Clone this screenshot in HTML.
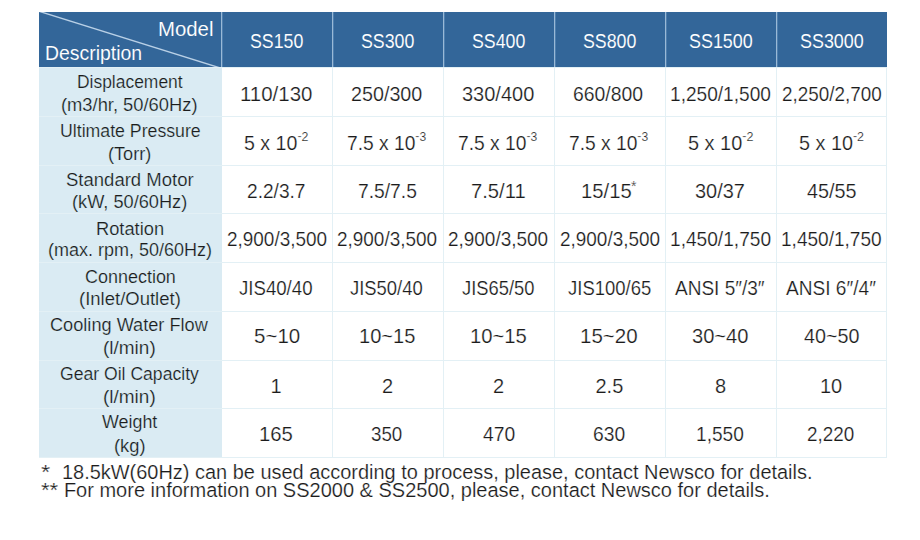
<!DOCTYPE html>
<html><head><meta charset="utf-8"><style>
html,body{margin:0;padding:0;background:#fff;width:920px;height:540px;overflow:hidden;position:relative}
body{font-family:"Liberation Sans",sans-serif;color:#1c1c1c}
.a{position:absolute}
.t{position:absolute;white-space:nowrap;line-height:1;transform-origin:0 0}
</style></head><body>

<div class="a" style="left:39px;top:12px;width:848px;height:55px;background:#336699"></div>
<div class="a" style="left:39px;top:67px;width:183px;height:390px;background:#daebf3"></div>
<div class="a" style="left:221px;top:12px;width:1px;height:55px;background:#9ab9d6"></div>
<div class="a" style="left:222px;top:12px;width:1px;height:55px;background:#4f7fae"></div>
<div class="a" style="left:332px;top:12px;width:1px;height:55px;background:#9ab9d6"></div>
<div class="a" style="left:333px;top:12px;width:1px;height:55px;background:#4f7fae"></div>
<div class="a" style="left:443px;top:12px;width:1px;height:55px;background:#9ab9d6"></div>
<div class="a" style="left:444px;top:12px;width:1px;height:55px;background:#4f7fae"></div>
<div class="a" style="left:554px;top:12px;width:1px;height:55px;background:#9ab9d6"></div>
<div class="a" style="left:555px;top:12px;width:1px;height:55px;background:#4f7fae"></div>
<div class="a" style="left:665px;top:12px;width:1px;height:55px;background:#9ab9d6"></div>
<div class="a" style="left:666px;top:12px;width:1px;height:55px;background:#4f7fae"></div>
<div class="a" style="left:776px;top:12px;width:1px;height:55px;background:#9ab9d6"></div>
<div class="a" style="left:777px;top:12px;width:1px;height:55px;background:#4f7fae"></div>
<div class="a" style="left:332px;top:67px;width:1px;height:390px;background:#e3f0f5"></div>
<div class="a" style="left:443px;top:67px;width:1px;height:390px;background:#e3f0f5"></div>
<div class="a" style="left:554px;top:67px;width:1px;height:390px;background:#e3f0f5"></div>
<div class="a" style="left:665px;top:67px;width:1px;height:390px;background:#e3f0f5"></div>
<div class="a" style="left:776px;top:67px;width:1px;height:390px;background:#e3f0f5"></div>
<div class="a" style="left:886px;top:67px;width:1px;height:391px;background:#e3f0f5"></div>
<div class="a" style="left:39px;top:67px;width:848px;height:1px;background:#e3f0f5"></div>
<div class="a" style="left:39px;top:116px;width:848px;height:1px;background:#e3f0f5"></div>
<div class="a" style="left:39px;top:165px;width:848px;height:1px;background:#e3f0f5"></div>
<div class="a" style="left:39px;top:213px;width:848px;height:1px;background:#e3f0f5"></div>
<div class="a" style="left:39px;top:262px;width:848px;height:1px;background:#e3f0f5"></div>
<div class="a" style="left:39px;top:311px;width:848px;height:1px;background:#e3f0f5"></div>
<div class="a" style="left:39px;top:360px;width:848px;height:1px;background:#e3f0f5"></div>
<div class="a" style="left:39px;top:408px;width:848px;height:1px;background:#e3f0f5"></div>
<div class="a" style="left:39px;top:457px;width:848px;height:1px;background:#e3f0f5"></div>
<svg class="a" style="left:39px;top:12px;overflow:hidden" width="182" height="55"><line x1="0" y1="-0.7" x2="182" y2="56.2" stroke="#b9d0e6" stroke-width="1.4"/></svg>
<div class="t" style="left:157.86px;top:19.00px;font-size:20px;color:#fff;-webkit-text-stroke:0.1px #336699;transform:scaleX(1.0176);">Model</div>
<div class="t" style="left:44.96px;top:43.00px;font-size:20px;color:#fff;-webkit-text-stroke:0.1px #336699;transform:scaleX(0.9711);">Description</div>
<div class="t" style="left:249.86px;top:31.00px;font-size:20px;color:#fff;-webkit-text-stroke:0.1px #336699;transform:scaleX(0.8879);">SS150</div>
<div class="t" style="left:360.86px;top:31.00px;font-size:20px;color:#fff;-webkit-text-stroke:0.1px #336699;transform:scaleX(0.8879);">SS300</div>
<div class="t" style="left:471.86px;top:31.00px;font-size:20px;color:#fff;-webkit-text-stroke:0.1px #336699;transform:scaleX(0.8879);">SS400</div>
<div class="t" style="left:582.86px;top:31.00px;font-size:20px;color:#fff;-webkit-text-stroke:0.1px #336699;transform:scaleX(0.8879);">SS800</div>
<div class="t" style="left:688.70px;top:31.00px;font-size:20px;color:#fff;-webkit-text-stroke:0.1px #336699;transform:scaleX(0.8957);">SS1500</div>
<div class="t" style="left:799.70px;top:31.00px;font-size:20px;color:#fff;-webkit-text-stroke:0.1px #336699;transform:scaleX(0.8957);">SS3000</div>
<div class="t" style="left:76.93px;top:73.00px;font-size:18px;-webkit-text-stroke:0.2px #daebf3;transform:scaleX(0.9685);">Displacement</div>
<div class="t" style="left:61.28px;top:96.00px;font-size:18px;-webkit-text-stroke:0.2px #daebf3;transform:scaleX(1.0182);">(m3/hr, 50/60Hz)</div>
<div class="t" style="left:59.72px;top:122.00px;font-size:18px;-webkit-text-stroke:0.2px #daebf3;transform:scaleX(0.9837);">Ultimate Pressure</div>
<div class="t" style="left:108.19px;top:145.00px;font-size:18px;-webkit-text-stroke:0.2px #daebf3;transform:scaleX(1.0073);">(Torr)</div>
<div class="t" style="left:65.57px;top:171.00px;font-size:18px;-webkit-text-stroke:0.2px #daebf3;transform:scaleX(1.0285);">Standard Motor</div>
<div class="t" style="left:72.39px;top:193.00px;font-size:18px;-webkit-text-stroke:0.2px #daebf3;transform:scaleX(1.0107);">(kW, 50/60Hz)</div>
<div class="t" style="left:95.98px;top:220.00px;font-size:18px;-webkit-text-stroke:0.2px #daebf3;transform:scaleX(1.0154);">Rotation</div>
<div class="t" style="left:47.90px;top:241.00px;font-size:18px;-webkit-text-stroke:0.2px #daebf3;">(max. rpm, 50/60Hz)</div>
<div class="t" style="left:84.60px;top:268.00px;font-size:18px;-webkit-text-stroke:0.2px #daebf3;transform:scaleX(0.9978);">Connection</div>
<div class="t" style="left:79.27px;top:290.00px;font-size:18px;-webkit-text-stroke:0.2px #daebf3;transform:scaleX(1.0278);">(Inlet/Outlet)</div>
<div class="t" style="left:50.39px;top:316.00px;font-size:18px;-webkit-text-stroke:0.2px #daebf3;transform:scaleX(1.0090);">Cooling Water Flow</div>
<div class="t" style="left:102.85px;top:339.00px;font-size:18px;-webkit-text-stroke:0.2px #daebf3;transform:scaleX(1.0542);">(l/min)</div>
<div class="t" style="left:60.22px;top:365.00px;font-size:18px;-webkit-text-stroke:0.2px #daebf3;transform:scaleX(0.9773);">Gear Oil Capacity</div>
<div class="t" style="left:102.85px;top:388.00px;font-size:18px;-webkit-text-stroke:0.2px #daebf3;transform:scaleX(1.0542);">(l/min)</div>
<div class="t" style="left:102.00px;top:413.00px;font-size:18px;-webkit-text-stroke:0.2px #daebf3;transform:scaleX(0.9929);">Weight</div>
<div class="t" style="left:113.78px;top:437.00px;font-size:18px;-webkit-text-stroke:0.2px #daebf3;transform:scaleX(1.0172);">(kg)</div>
<div class="t" style="left:239.76px;top:84.00px;font-size:20px;-webkit-text-stroke:0.2px #ffffff;transform:scaleX(1.0221);">110/130</div>
<div class="t" style="left:351.31px;top:84.00px;font-size:20px;-webkit-text-stroke:0.2px #ffffff;transform:scaleX(0.9859);">250/300</div>
<div class="t" style="left:462.00px;top:84.00px;font-size:20px;-webkit-text-stroke:0.2px #ffffff;">330/400</div>
<div class="t" style="left:572.93px;top:84.00px;font-size:20px;-webkit-text-stroke:0.2px #ffffff;transform:scaleX(0.9690);">660/800</div>
<div class="t" style="left:669.69px;top:84.00px;font-size:20px;-webkit-text-stroke:0.2px #ffffff;transform:scaleX(0.9553);">1,250/1,500</div>
<div class="t" style="left:781.76px;top:84.00px;font-size:20px;-webkit-text-stroke:0.2px #ffffff;transform:scaleX(0.9433);">2,250/2,700</div>
<div class="t" style="left:243.92px;top:133.00px;font-size:20px;-webkit-text-stroke:0.2px #ffffff;transform:scaleX(0.9797);">5 x 10<span style="font-size:0.63em;position:relative;top:-0.71em"><span style="position:relative;top:-0.12em">-</span>2</span></div>
<div class="t" style="left:347.04px;top:133.00px;font-size:20px;-webkit-text-stroke:0.2px #ffffff;transform:scaleX(0.9605);">7.5 x 10<span style="font-size:0.63em;position:relative;top:-0.71em"><span style="position:relative;top:-0.12em">-</span>3</span></div>
<div class="t" style="left:458.04px;top:133.00px;font-size:20px;-webkit-text-stroke:0.2px #ffffff;transform:scaleX(0.9617);">7.5 x 10<span style="font-size:0.63em;position:relative;top:-0.71em"><span style="position:relative;top:-0.12em">-</span>3</span></div>
<div class="t" style="left:569.34px;top:133.00px;font-size:20px;-webkit-text-stroke:0.2px #ffffff;transform:scaleX(0.9605);">7.5 x 10<span style="font-size:0.63em;position:relative;top:-0.71em"><span style="position:relative;top:-0.12em">-</span>3</span></div>
<div class="t" style="left:687.60px;top:133.00px;font-size:20px;-webkit-text-stroke:0.2px #ffffff;transform:scaleX(0.9953);">5 x 10<span style="font-size:0.63em;position:relative;top:-0.71em"><span style="position:relative;top:-0.12em">-</span>2</span></div>
<div class="t" style="left:799.11px;top:133.00px;font-size:20px;-webkit-text-stroke:0.2px #ffffff;transform:scaleX(0.9891);">5 x 10<span style="font-size:0.63em;position:relative;top:-0.71em"><span style="position:relative;top:-0.12em">-</span>2</span></div>
<div class="t" style="left:247.14px;top:181.00px;font-size:20px;-webkit-text-stroke:0.2px #ffffff;transform:scaleX(0.9559);">2.2/3.7</div>
<div class="t" style="left:357.84px;top:181.00px;font-size:20px;-webkit-text-stroke:0.2px #ffffff;transform:scaleX(0.9627);">7.5/7.5</div>
<div class="t" style="left:470.69px;top:181.00px;font-size:20px;-webkit-text-stroke:0.2px #ffffff;transform:scaleX(1.0096);">7.5/11</div>
<div class="t" style="left:580.57px;top:181.00px;font-size:20px;-webkit-text-stroke:0.2px #ffffff;transform:scaleX(1.0128);">15/15</div>
<div class="t" style="left:695.20px;top:181.00px;font-size:20px;-webkit-text-stroke:0.2px #ffffff;transform:scaleX(0.9958);">30/37</div>
<div class="t" style="left:806.60px;top:181.00px;font-size:20px;-webkit-text-stroke:0.2px #ffffff;transform:scaleX(0.9898);">45/55</div>
<div class="t" style="left:226.55px;top:229.00px;font-size:20px;-webkit-text-stroke:0.2px #ffffff;transform:scaleX(0.9471);">2,900/3,500</div>
<div class="t" style="left:337.30px;top:229.00px;font-size:20px;-webkit-text-stroke:0.2px #ffffff;transform:scaleX(0.9471);">2,900/3,500</div>
<div class="t" style="left:448.30px;top:229.00px;font-size:20px;-webkit-text-stroke:0.2px #ffffff;transform:scaleX(0.9471);">2,900/3,500</div>
<div class="t" style="left:559.55px;top:229.00px;font-size:20px;-webkit-text-stroke:0.2px #ffffff;transform:scaleX(0.9471);">2,900/3,500</div>
<div class="t" style="left:669.69px;top:229.00px;font-size:20px;-webkit-text-stroke:0.2px #ffffff;transform:scaleX(0.9563);">1,450/1,750</div>
<div class="t" style="left:780.80px;top:229.00px;font-size:20px;-webkit-text-stroke:0.2px #ffffff;transform:scaleX(0.9524);">1,450/1,750</div>
<div class="t" style="left:239.17px;top:278.00px;font-size:20px;-webkit-text-stroke:0.2px #ffffff;transform:scaleX(0.9312);">JIS40/40</div>
<div class="t" style="left:350.28px;top:278.00px;font-size:20px;-webkit-text-stroke:0.2px #ffffff;transform:scaleX(0.9208);">JIS50/40</div>
<div class="t" style="left:461.78px;top:278.00px;font-size:20px;-webkit-text-stroke:0.2px #ffffff;transform:scaleX(0.9169);">JIS65/50</div>
<div class="t" style="left:567.58px;top:278.00px;font-size:20px;-webkit-text-stroke:0.2px #ffffff;transform:scaleX(0.9250);">JIS100/65</div>
<div class="t" style="left:675.20px;top:278.00px;font-size:20px;-webkit-text-stroke:0.2px #ffffff;transform:scaleX(0.9511);">ANSI 5″/3″</div>
<div class="t" style="left:786.40px;top:278.00px;font-size:20px;-webkit-text-stroke:0.2px #ffffff;transform:scaleX(0.9543);">ANSI 6″/4″</div>
<div class="t" style="left:253.57px;top:326.00px;font-size:20px;-webkit-text-stroke:0.2px #ffffff;transform:scaleX(1.0256);">5~10</div>
<div class="t" style="left:358.59px;top:326.00px;font-size:20px;-webkit-text-stroke:0.2px #ffffff;transform:scaleX(1.0038);">10~15</div>
<div class="t" style="left:469.68px;top:326.00px;font-size:20px;-webkit-text-stroke:0.2px #ffffff;transform:scaleX(1.0113);">10~15</div>
<div class="t" style="left:580.15px;top:326.00px;font-size:20px;-webkit-text-stroke:0.2px #ffffff;transform:scaleX(1.0245);">15~20</div>
<div class="t" style="left:692.29px;top:326.00px;font-size:20px;-webkit-text-stroke:0.2px #ffffff;transform:scaleX(1.0056);">30~40</div>
<div class="t" style="left:803.70px;top:326.00px;font-size:20px;-webkit-text-stroke:0.2px #ffffff;transform:scaleX(0.9873);">40~50</div>
<div class="t" style="left:270.50px;top:376.00px;font-size:20px;-webkit-text-stroke:0.2px #ffffff;">1</div>
<div class="t" style="left:382.00px;top:376.00px;font-size:20px;-webkit-text-stroke:0.2px #ffffff;">2</div>
<div class="t" style="left:493.00px;top:376.00px;font-size:20px;-webkit-text-stroke:0.2px #ffffff;">2</div>
<div class="t" style="left:595.50px;top:376.00px;font-size:20px;-webkit-text-stroke:0.2px #ffffff;">2.5</div>
<div class="t" style="left:715.00px;top:376.00px;font-size:20px;-webkit-text-stroke:0.2px #ffffff;">8</div>
<div class="t" style="left:820.00px;top:376.00px;font-size:20px;-webkit-text-stroke:0.2px #ffffff;">10</div>
<div class="t" style="left:259.07px;top:424.00px;font-size:20px;-webkit-text-stroke:0.2px #ffffff;transform:scaleX(1.0161);">165</div>
<div class="t" style="left:371.26px;top:424.00px;font-size:20px;-webkit-text-stroke:0.2px #ffffff;transform:scaleX(0.9375);">350</div>
<div class="t" style="left:482.60px;top:424.00px;font-size:20px;-webkit-text-stroke:0.2px #ffffff;transform:scaleX(0.9636);">470</div>
<div class="t" style="left:592.84px;top:424.00px;font-size:20px;-webkit-text-stroke:0.2px #ffffff;transform:scaleX(0.9625);">630</div>
<div class="t" style="left:696.09px;top:424.00px;font-size:20px;-webkit-text-stroke:0.2px #ffffff;transform:scaleX(0.9553);">1,550</div>
<div class="t" style="left:807.46px;top:424.00px;font-size:20px;-webkit-text-stroke:0.2px #ffffff;transform:scaleX(0.9438);">2,220</div>
<div class="t" style="left:630.90px;top:179.00px;font-size:14px;-webkit-text-stroke:0.2px #ffffff;">*</div>
<div class="t" style="left:41.22px;top:462.00px;font-size:20px;-webkit-text-stroke:0.2px #ffffff;transform:scaleX(1.1833);">*</div>
<div class="t" style="left:62.11px;top:462.00px;font-size:20px;-webkit-text-stroke:0.2px #ffffff;transform:scaleX(0.9972);">18.5kW(60Hz) can be used according to process, please, contact Newsco for details.</div>
<div class="t" style="left:41.29px;top:480.00px;font-size:20px;-webkit-text-stroke:0.2px #ffffff;transform:scaleX(1.1071);">**</div>
<div class="t" style="left:63.90px;top:480.00px;font-size:20px;-webkit-text-stroke:0.2px #ffffff;">For more information on SS2000 &amp; SS2500, please, contact Newsco for details.</div>
</body></html>
